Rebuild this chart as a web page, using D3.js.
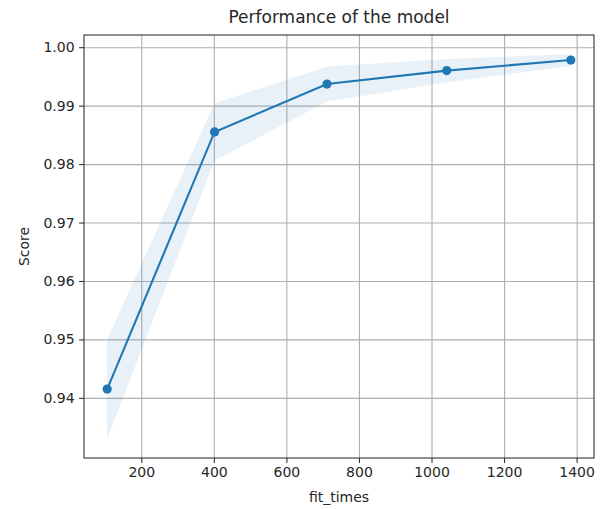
<!DOCTYPE html>
<html>
<head>
<meta charset="utf-8">
<script src="https://cdn.jsdelivr.net/npm/d3@7"></script>
<style>
    body { margin: 0; background: #fff; }
    svg text { font-family: "DejaVu Sans", sans-serif; fill: #262626; }
</style>
</head>
<body>
<svg id="chart" width="606" height="509"></svg>
<script>
// values
let fitTimes = [106, 402, 712, 1042, 1384];
let scoreMean = [0.9415, 0.9855, 0.9937, 0.9960, 0.9978];
let scoreStd = [0.0085, 0.0049, 0.0030, 0.0020, 0.0010];
let xTicks = [200, 400, 600, 800, 1000, 1200, 1400];
let yTicks = [0.94, 0.95, 0.96, 0.97, 0.98, 0.99, 1.00];

let points = fitTimes.map((t, i) => ({
    x: t,
    y: scoreMean[i],
    lo: scoreMean[i] - scoreStd[i],
    hi: scoreMean[i] + scoreStd[i]
}));

let svg = d3.select('#chart');
// plot box (window.top is taken, so no bare "top")
let plotLeft = 84, plotRight = 594, plotTop = 35, plotBottom = 458;
let blue = '#1f77b4';

// matplotlib style 5% margins
let pad = (lo, hi) => [lo - (hi - lo) * 0.05, hi + (hi - lo) * 0.05];
let x = d3.scaleLinear()
    .domain(pad(d3.min(fitTimes), d3.max(fitTimes)))
    .range([plotLeft, plotRight]);
let y = d3.scaleLinear()
    .domain(pad(d3.min(points, d => d.lo), d3.max(points, d => d.hi)))
    .range([plotBottom, plotTop]);

// grid
svg.append('g')
    .attr('transform', `translate(0,${plotBottom})`)
    .call(d3.axisBottom(x).tickValues(xTicks).tickSize(-(plotBottom - plotTop)).tickFormat(''))
    .call(g => g.select('.domain').remove())
    .selectAll('line').attr('stroke', '#b0b0b0').attr('stroke-width', 1.1);
svg.append('g')
    .attr('transform', `translate(${plotLeft},0)`)
    .call(d3.axisLeft(y).tickValues(yTicks).tickSize(-(plotRight - plotLeft)).tickFormat(''))
    .call(g => g.select('.domain').remove())
    .selectAll('line').attr('stroke', '#b0b0b0').attr('stroke-width', 1.1);

// std band
svg.append('path')
    .datum(points)
    .attr('fill', blue)
    .attr('fill-opacity', 0.1)
    .attr('d', d3.area().x(d => x(d.x)).y0(d => y(d.lo)).y1(d => y(d.hi)));

// mean line + markers
svg.append('path')
    .datum(points)
    .attr('fill', 'none')
    .attr('stroke', blue)
    .attr('stroke-width', 2.1)
    .attr('d', d3.line().x(d => x(d.x)).y(d => y(d.y)));
svg.selectAll('.dot')
    .data(points)
    .enter().append('circle')
    .attr('class', 'dot')
    .attr('cx', d => x(d.x))
    .attr('cy', d => y(d.y))
    .attr('r', 4.6)
    .attr('fill', blue);

// axes
let xAxis = svg.append('g')
    .attr('transform', `translate(0,${plotBottom})`)
    .call(d3.axisBottom(x).tickValues(xTicks).tickSize(4.9).tickPadding(4.5).tickFormat(d3.format('d')));
let yAxis = svg.append('g')
    .attr('transform', `translate(${plotLeft},0)`)
    .call(d3.axisLeft(y).tickValues(yTicks).tickSize(4.9).tickPadding(4.5).tickFormat(d3.format('.2f')));
[xAxis, yAxis].forEach(g => {
    g.select('.domain').remove();
    g.selectAll('line').attr('stroke', '#333').attr('stroke-width', 1.1);
    g.selectAll('text').attr('font-size', 14).attr('fill', '#262626');
});

// frame
svg.append('rect')
    .attr('x', plotLeft).attr('y', plotTop)
    .attr('width', plotRight - plotLeft).attr('height', plotBottom - plotTop)
    .attr('fill', 'none').attr('stroke', '#333').attr('stroke-width', 1.1);

// labels
svg.append('text')
    .attr('x', (plotLeft + plotRight) / 2).attr('y', 23)
    .attr('text-anchor', 'middle').attr('font-size', 17)
    .text('Performance of the model');
svg.append('text')
    .attr('x', (plotLeft + plotRight) / 2).attr('y', 502)
    .attr('text-anchor', 'middle').attr('font-size', 14)
    .text('fit_times');
svg.append('text')
    .attr('transform', `translate(29,${(plotTop + plotBottom) / 2}) rotate(-90)`)
    .attr('text-anchor', 'middle').attr('font-size', 14)
    .text('Score');
</script>
</body>
</html>
